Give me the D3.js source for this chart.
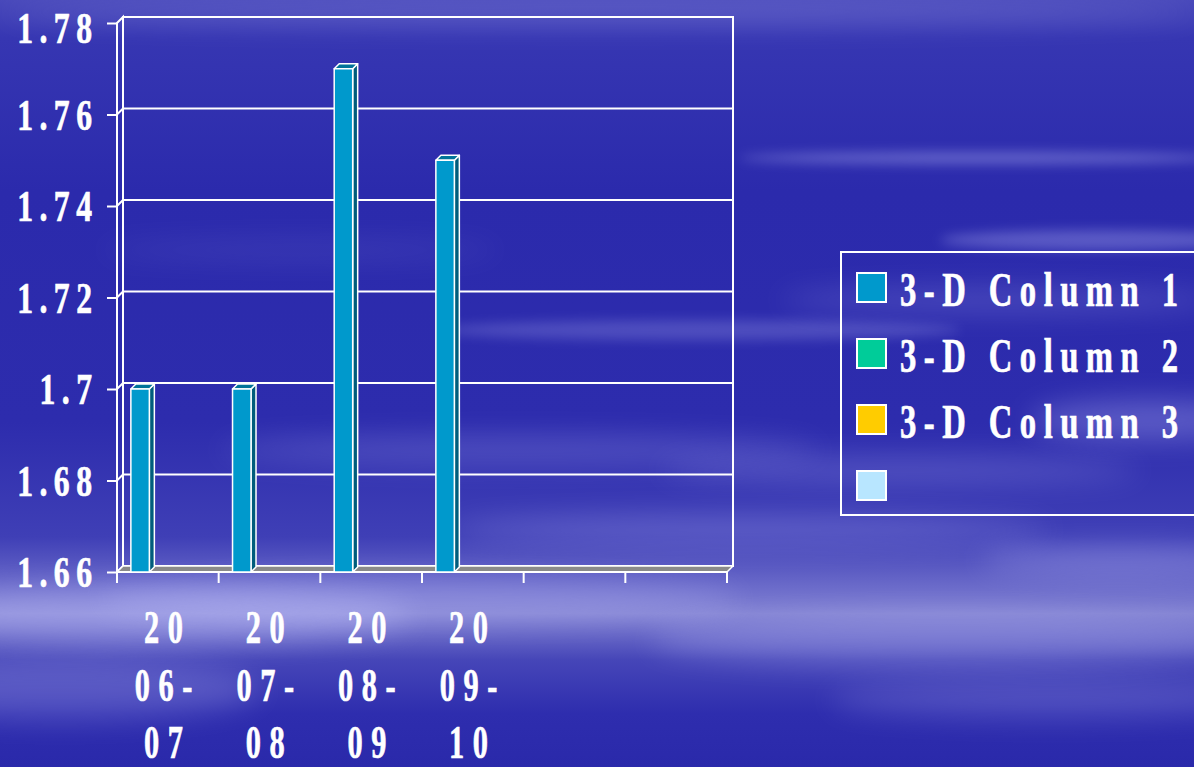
<!DOCTYPE html>
<html>
<head>
<meta charset="utf-8">
<script src="https://cdn.jsdelivr.net/npm/d3@7"></script>
<style>
  html, body { margin: 0; padding: 0; background: #2b2aab; overflow: hidden; }
  svg { display: block; }
</style>
</head>
<body>
<svg id="chart" width="1194" height="767"></svg>
<script>
// ---- data ----
const categories = [0, 1, 2, 3, 4, 5];
const xLabels = [["20", "06-", "07"], ["20", "07-", "08"], ["20", "08-", "09"], ["20", "09-", "10"], [], []];
const seriesNames = ["3-D Column 1", "3-D Column 2", "3-D Column 3", ""];
const seriesColors = ["#0099cc", "#00cc99", "#ffcc00", "#b8e6ff"];
const column1 = [1.70, 1.70, 1.77, 1.75, null, null];
const column2 = [null, null, null, null, null, null];
const column3 = [null, null, null, null, null, null];
const column4 = [null, null, null, null, null, null];
const seriesValues = [column1, column2, column3, column4];
const yTicks = [1.66, 1.68, 1.70, 1.72, 1.74, 1.76, 1.78];

// ---- layout ----
const W = 1194, H = 767;
const svg = d3.select("#chart");
const depthX = 6, depthY = 6;      // wall depth offset
const barDX = 5, barDY = 5;        // column depth offset
const FONT = "'Liberation Serif', 'Times New Roman', serif";

const x = d3.scaleBand().domain(categories).range([117, 727]).padding(0);
const xs = d3.scaleBand().domain(d3.range(seriesNames.length))
  .range([0, x.bandwidth()]).paddingInner(0).paddingOuter(0.75);
const y = d3.scaleLinear().domain([1.66, 1.78]).range([572, 23]);
const y0 = y.range()[0], yTop = y.range()[1];
const xL = x.range()[0], xR = x.range()[1];

// ---- background sky ----
const defs = svg.append("defs");
const sky = defs.append("linearGradient").attr("id", "sky")
  .attr("x1", 0).attr("y1", 0).attr("x2", 0).attr("y2", 1);
[[0, "#4848ba"], [0.05, "#3636b2"], [0.25, "#2b2aac"], [0.55, "#2d2cad"],
 [0.7, "#3f3fb6"], [0.77, "#6e6ecb"], [0.8, "#8282d2"], [0.86, "#4646b8"],
 [0.93, "#2e2dae"], [1, "#2a29aa"]]
  .forEach(([o, c]) => sky.append("stop").attr("offset", o).attr("stop-color", c));
defs.append("filter").attr("id", "soft").attr("x", "-50%").attr("y", "-200%")
  .attr("width", "200%").attr("height", "500%")
  .append("feGaussianBlur").attr("stdDeviation", 14);
defs.append("filter").attr("id", "softer").attr("x", "-50%").attr("y", "-200%")
  .attr("width", "200%").attr("height", "500%")
  .append("feGaussianBlur").attr("stdDeviation", 6);

svg.append("rect").attr("width", W).attr("height", H).attr("fill", "url(#sky)");

// cloud wisps
const clouds = svg.append("g").attr("fill", "#c8c8ff");
[
  [150, 615, 260, 28, 0.35, "soft"], [420, 600, 320, 22, 0.25, "soft"],
  [60, 690, 200, 30, 0.22, "soft"], [950, 640, 300, 26, 0.25, "soft"],
  [1050, 700, 220, 18, 0.2, "soft"], [980, 158, 240, 6, 0.35, "softer"],
  [1100, 240, 160, 10, 0.3, "softer"], [700, 330, 260, 10, 0.22, "softer"],
  [1000, 300, 220, 12, 0.2, "soft"], [520, 450, 300, 14, 0.2, "soft"],
  [900, 470, 240, 12, 0.22, "soft"], [750, 530, 300, 14, 0.25, "soft"],
  [1120, 560, 140, 16, 0.25, "soft"], [300, 250, 200, 10, 0.1, "soft"],
  [600, 12, 600, 14, 0.18, "soft"], [1150, 420, 120, 20, 0.3, "soft"]
].forEach(([cx, cy, rx, ry, op, f]) => {
  clouds.append("ellipse").attr("cx", cx).attr("cy", cy).attr("rx", rx).attr("ry", ry)
    .attr("opacity", op).attr("filter", `url(#${f})`);
});

// ---- walls and floor ----
const walls = svg.append("g").attr("fill", "none").attr("stroke", "#fff").attr("stroke-width", 2);

// floor
svg.append("polygon")
  .attr("points", [[xL, y0], [xR, y0], [xR + depthX, y0 - depthY], [xL + depthX, y0 - depthY]].join(" "))
  .attr("fill", "#8a8a8a").attr("stroke", "#fff").attr("stroke-width", 1.5).attr("stroke-linejoin", "round");

// back wall
walls.append("rect")
  .attr("x", xL + depthX).attr("y", yTop - depthY)
  .attr("width", xR - xL).attr("height", y0 - yTop);

// side wall
walls.append("polygon")
  .attr("points", [[xL, yTop], [xL + depthX, yTop - depthY], [xL + depthX, y0 - depthY], [xL, y0]].join(" "));

// gridlines across back wall and side wall
const grid = svg.append("g").attr("stroke", "#fff").attr("stroke-width", 2).attr("fill", "none");
yTicks.slice(1, -1).forEach(t => {
  grid.append("line").attr("x1", xL + depthX).attr("x2", xR + depthX)
    .attr("y1", y(t) - depthY).attr("y2", y(t) - depthY);
  grid.append("line").attr("x1", xL).attr("x2", xL + depthX)
    .attr("y1", y(t)).attr("y2", y(t) - depthY);
});

// ---- axes ----
const yAxis = d3.axisLeft(y).tickValues(yTicks).tickSize(10).tickFormat(() => "");
svg.append("g").attr("transform", `translate(${xL},0)`).call(yAxis)
  .call(g => g.selectAll("line,path").attr("stroke", "#fff").attr("stroke-width", 2))
  .call(g => g.select(".domain").attr("d", `M0,${y0}V${yTop}`));

const xTickPos = categories.map(c => x(c)).concat([xR]);
const xAxisG = svg.append("g").attr("stroke", "#fff").attr("stroke-width", 2);
xAxisG.append("line").attr("x1", xL).attr("x2", xR).attr("y1", y0).attr("y2", y0);
xTickPos.forEach(p => xAxisG.append("line").attr("x1", p).attr("x2", p).attr("y1", y0).attr("y2", y0 + 11));

// ---- stretched serif labels ----
function label(g, str, px, py, opts) {
  const { size, sx, ls, anchor } = opts;
  return g.append("text")
    .attr("transform", `translate(${px},${py}) scale(${sx},1)`)
    .attr("font-family", FONT).attr("font-weight", "bold")
    .attr("font-size", size).attr("letter-spacing", ls)
    .attr("text-anchor", anchor).attr("fill", "#fff")
    .attr("stroke", "#fff").attr("stroke-width", 0.7).attr("paint-order", "stroke")
    .text(str);
}

const yLab = svg.append("g");
const yOpt = { size: 44, sx: 0.72, ls: 9, anchor: "end" };
yTicks.forEach(t => {
  label(yLab, d3.format("")(+t.toFixed(2)), 92 + yOpt.ls * yOpt.sx, Math.max(y(t) + 15, 43), yOpt);
});

const xLab = svg.append("g");
const xOpt = { size: 46, sx: 0.66, ls: 13, anchor: "middle" };
categories.forEach((c, i) => {
  xLabels[i].forEach((line, j) => {
    label(xLab, line, x(c) + x.bandwidth() / 2, 643 + j * 57.5, xOpt);
  });
});

// ---- 3-D columns ----
const bars = svg.append("g").attr("stroke", "#fff").attr("stroke-width", 1.5).attr("stroke-linejoin", "round");
const shade = (c, k) => d3.rgb(c).darker(k).formatHex();
seriesValues.forEach((vals, s) => {
  vals.forEach((v, i) => {
    if (v == null || v <= y.domain()[0]) return;
    const bx = x(categories[i]) + xs(s), bw = xs.bandwidth();
    const ty = y(v);
    const col = seriesColors[s];
    bars.append("polygon")
      .attr("points", [[bx + bw, ty], [bx + bw + barDX, ty - barDY], [bx + bw + barDX, y0 - barDY], [bx + bw, y0]].join(" "))
      .attr("fill", shade(col, 1.4));
    bars.append("polygon")
      .attr("points", [[bx, ty], [bx + barDX, ty - barDY], [bx + bw + barDX, ty - barDY], [bx + bw, ty]].join(" "))
      .attr("fill", shade(col, 0.8));
    bars.append("rect").attr("x", bx).attr("y", ty).attr("width", bw).attr("height", y0 - ty)
      .attr("fill", col);
  });
});

// ---- legend ----
const legend = svg.append("g");
legend.append("rect").attr("x", 841).attr("y", 252).attr("width", 400).attr("height", 263)
  .attr("fill", "none").attr("stroke", "#fff").attr("stroke-width", 2);
const lOpt = { size: 48, sx: 0.68, ls: 11, anchor: "start" };
seriesNames.forEach((name, i) => {
  const ry = 273 + i * 66;
  legend.append("rect").attr("x", 857).attr("y", ry).attr("width", 29).attr("height", 29)
    .attr("fill", seriesColors[i]).attr("stroke", "#fff").attr("stroke-width", 2);
  if (name) label(legend, name, 900, ry + 33, lOpt);
});
</script>
</body>
</html>
